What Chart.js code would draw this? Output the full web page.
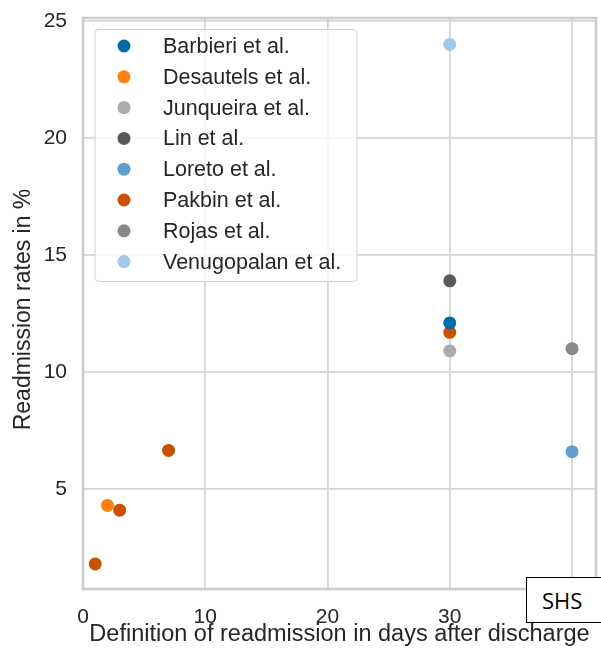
<!DOCTYPE html>
<html>
<head>
<meta charset="utf-8">
<script src="https://cdn.jsdelivr.net/npm/chart.js@4/dist/chart.umd.min.js"></script>
<style>
  html, body { margin: 0; padding: 0; background: #fff; overflow: hidden; }
  #wrap { position: relative; width: 601px; height: 650px; }
  #shs {
    position: absolute; left: 526px; top: 577px; width: 90px; height: 46px;
    box-sizing: border-box; border: 1.5px solid #000; background: #fff;
    font-family: "Open Sans", sans-serif; font-size: 22px; line-height: 45px;
    padding-left: 15px; color: #000;
  }
</style>
</head>
<body>
<div id="wrap">
  <canvas id="chart" width="601" height="650"></canvas>
  <div id="shs">SHS</div>
</div>
<script>
// Studies shown in the legend, in legend order, with their marker colours
const studies = ['Barbieri et al.', 'Desautels et al.', 'Junqueira et al.', 'Lin et al.',
                 'Loreto et al.', 'Pakbin et al.', 'Rojas et al.', 'Venugopalan et al.'];
const studyColors = ['#006BA4', '#FF800E', '#ABABAB', '#595959',
                     '#5F9ED1', '#C85200', '#898989', '#A2C8EC'];

// One entry per reported result: study, readmission window (days), readmission rate (%)
const pointStudy = ['Barbieri et al.', 'Desautels et al.', 'Junqueira et al.', 'Lin et al.',
                    'Loreto et al.', 'Pakbin et al.', 'Pakbin et al.', 'Pakbin et al.',
                    'Pakbin et al.', 'Rojas et al.', 'Venugopalan et al.'];
const pointDays  = [30, 2, 30, 30, 40, 1, 3, 7, 30, 40, 30];
const pointRates = [12.1, 4.3, 10.9, 13.9, 6.6, 1.8, 4.1, 6.65, 11.7, 11.0, 24.0];

// Axis tick values
const xTicks = [0, 10, 20, 30, 40];
const yTicks = [5, 10, 15, 20, 25];

const FONT = '"Liberation Sans", Arial, sans-serif';
const TEXT = '#262626';
const yTitle = 'Readmission rates in %';

const datasets = studies.map((name, i) => ({
  label: name,
  data: pointDays
    .map((d, k) => ({ x: d, y: pointRates[k], s: pointStudy[k] }))
    .filter(p => p.s === name),
  backgroundColor: studyColors[i],
  borderWidth: 0,
  pointRadius: 6.5,
  pointHoverRadius: 6.5
}));

// Full axes frame, rotated y-axis title and a legend drawn inside the plot area
const frameAndLegend = {
  id: 'frameAndLegend',
  beforeDatasetsDraw(chart) {
    const { ctx, chartArea: a } = chart;
    ctx.save();
    ctx.strokeStyle = '#cccccc';
    ctx.lineWidth = 2.6;
    ctx.strokeRect(a.left, a.top, a.right - a.left, a.bottom - a.top);
    ctx.restore();
  },
  afterDatasetsDraw(chart) {
    const { ctx, chartArea: a } = chart;
    const bx = a.left + 12, by = a.top + 11.5, bw = 262, bh = 252, r = 4;
    ctx.save();
    ctx.beginPath();
    ctx.roundRect(bx, by, bw, bh, r);
    ctx.fillStyle = 'rgba(255,255,255,0.8)';
    ctx.fill();
    ctx.strokeStyle = '#d0d0d0';
    ctx.lineWidth = 1;
    ctx.stroke();
    ctx.font = '21.5px ' + FONT;
    ctx.textBaseline = 'middle';
    ctx.textAlign = 'left';
    chart.data.datasets.forEach((ds, i) => {
      const cy = by + 16.5 + i * 30.8;
      ctx.beginPath();
      ctx.arc(bx + 29, cy, 6.5, 0, Math.PI * 2);
      ctx.fillStyle = ds.backgroundColor;
      ctx.fill();
      ctx.fillStyle = TEXT;
      ctx.fillText(ds.label, bx + 68, cy + 1);
    });

    // y-axis title
    ctx.translate(24, (a.top + a.bottom) / 2 + 6);
    ctx.rotate(-Math.PI / 2);
    ctx.font = '23px ' + FONT;
    ctx.textAlign = 'center';
    ctx.textBaseline = 'middle';
    ctx.fillStyle = TEXT;
    ctx.fillText(yTitle, 0, 0);
    ctx.restore();
  }
};

new Chart(document.getElementById('chart'), {
  type: 'scatter',
  data: { datasets },
  plugins: [frameAndLegend],
  options: {
    responsive: false,
    animation: false,
    layout: { autoPadding: false, padding: { left: 0, top: 18, right: 5, bottom: 0 } },
    plugins: { legend: { display: false }, tooltip: { enabled: false } },
    scales: {
      x: {
        type: 'linear',
        min: 0,
        max: 41.96,
        afterBuildTicks: s => { s.ticks = xTicks.map(v => ({ value: v })); },
        afterFit: s => { s.height = 61; s.paddingLeft = 0; s.paddingRight = 0; },
        border: { display: false },
        grid: { color: '#d5d5d5', lineWidth: 1.8, drawTicks: false },
        ticks: { padding: 16, color: TEXT, font: { size: 21, family: FONT } },
        title: {
          display: true,
          text: 'Definition of readmission in days after discharge',
          color: TEXT,
          font: { size: 23.5, family: FONT },
          padding: { top: 0, bottom: 1 }
        }
      },
      y: {
        type: 'linear',
        min: 0.73,
        max: 25.13,
        afterBuildTicks: s => { s.ticks = yTicks.map(v => ({ value: v })); },
        afterFit: s => { s.width = 83; s.paddingTop = 0; s.paddingBottom = 0; },
        border: { display: false },
        grid: { color: '#d5d5d5', lineWidth: 1.8, drawTicks: false },
        ticks: { padding: 16, color: TEXT, font: { size: 21, family: FONT } },
        title: { display: false }
      }
    }
  }
});
</script>
</body>
</html>
